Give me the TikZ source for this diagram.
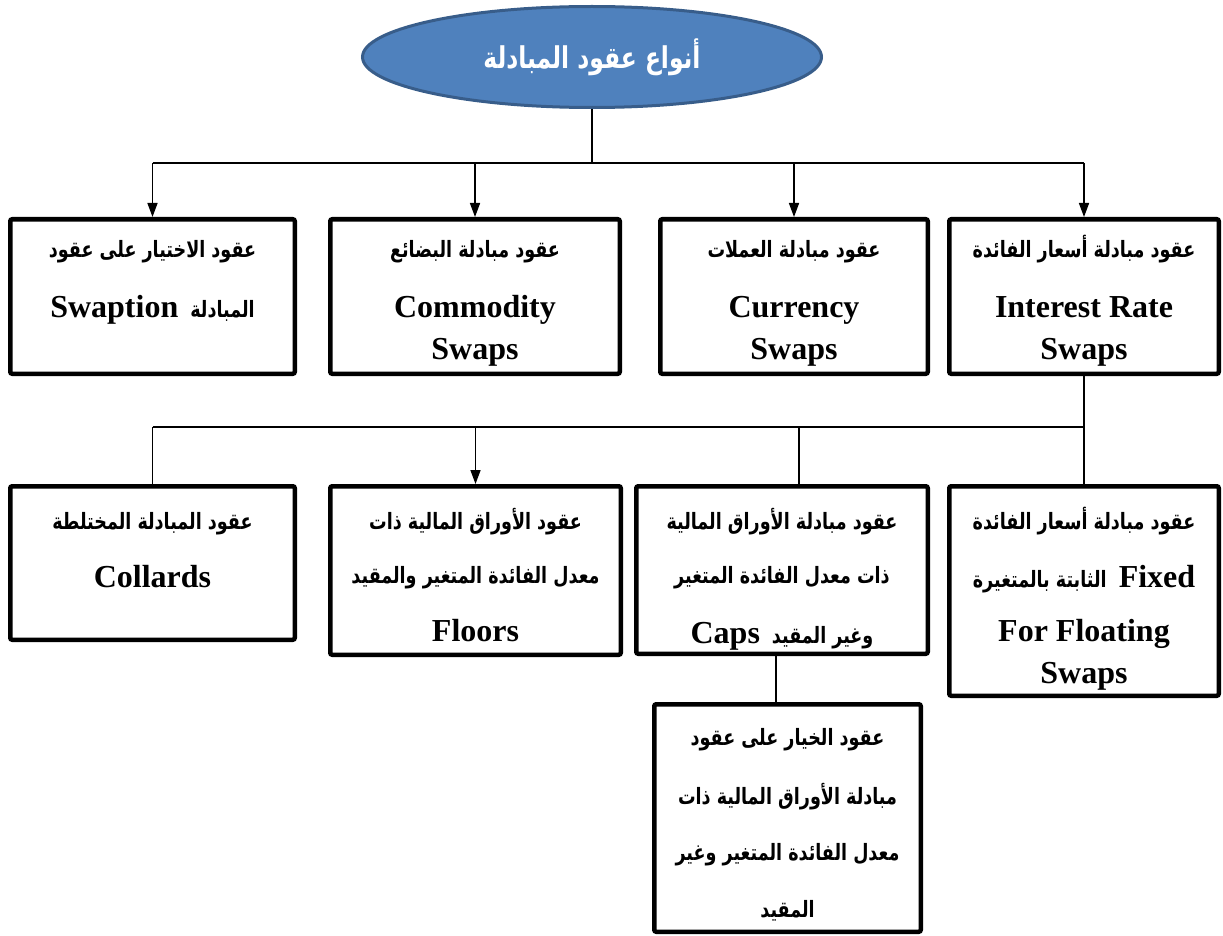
\documentclass[tikz,border=0pt]{standalone}
\usepackage{fontspec}
\setmainfont{Liberation Serif}
\newfontfamily\arabicfont[Script=Arabic,FakeStretch=0.78]{DejaVu Sans}
\TeXXeTstate=1
\usetikzlibrary{arrows.meta,positioning,shapes.geometric}
\definecolor{ovalfill}{RGB}{79,129,189}
\definecolor{ovaledge}{RGB}{56,93,138}
\newcommand{\artext}[1]{{\arabicfont\fontsize{22.5}{40}\selectfont\beginR#1\endR}}

\begin{document}
\begin{tikzpicture}[>={Triangle[length=14pt,width=10pt]},
  box/.style={draw,line width=4.5pt,rounded corners=2pt,inner sep=0pt,minimum height=154.5pt},
  txt/.style={align=center,inner sep=0pt,font=\bfseries\fontsize{32}{40}\selectfont},
  link/.style={line width=1.5pt},
  bus/.style={line width=2pt}]
  \useasboundingbox (0,0) rectangle (1223pt,-936pt);
  \node[ellipse,draw=ovaledge,fill=ovalfill,line width=3pt,minimum width=459pt,minimum height=101pt,
    text=white,font=\arabicfont\bfseries\fontsize{30}{36}\selectfont] (top) at (592pt,-57pt) {\beginR أنواع عقود المبادلة\endR};
  % first level
  \node[box,minimum width=269.5pt] (irs) at (1084pt,-296.5pt) {};
  \node[box,minimum width=267.5pt,left=17pt of irs] (cur) {};
  \node[box,minimum width=289.5pt,left=36pt of cur] (com) {};
  \node[box,minimum width=284.5pt,left=31pt of com] (swp) {};
  % second level
  \node[box,minimum width=269.5pt,minimum height=209.5pt,below=108pt of irs] (fix) {};
  \node[box,minimum width=291.5pt,minimum height=167.5pt,left=17pt of fix.north west,anchor=north east] (cap) {};
  \node[box,minimum width=290.5pt,minimum height=168.5pt,left=11pt of cap.north west,anchor=north east] (flo) {};
  \node[box,minimum width=284.5pt,minimum height=153.5pt,left=31pt of flo.north west,anchor=north east] (col) {};
  \node[box,minimum width=266.5pt,minimum height=227.5pt,below=46pt of cap,xshift=5.5pt] (opt) {};
  % texts
  \node[txt,below=12pt of swp.north] (swpT) {\strut\artext{عقود الاختيار على عقود}\\[20pt] Swaption\hspace{12pt}\artext{المبادلة}};
  \node[txt,below=12pt of com.north] (comT) {\strut\artext{عقود مبادلة البضائع}\\[20pt] Commodity\\[2pt] Swaps};
  \node[txt,below=12pt of cur.north] (curT) {\strut\artext{عقود مبادلة العملات}\\[20pt] Currency\\[2pt] Swaps};
  \node[txt,below=12pt of irs.north] (irsT) {\strut\artext{عقود مبادلة أسعار الفائدة}\\[20pt] Interest Rate\\[2pt] Swaps};
  \node[txt,below=17pt of col.north] (colT) {\strut\artext{عقود المبادلة المختلطة}\\[18pt] Collards};
  \node[txt,below=17pt of flo.north] (floT) {\strut\artext{عقود الأوراق المالية ذات}\\[14pt] \artext{معدل الفائدة المتغير والمقيد}\\[18pt] Floors};
  \node[txt,below=17pt of cap.north] (capT) {\strut\artext{عقود مبادلة الأوراق المالية}\\[14pt] \artext{ذات معدل الفائدة المتغير}\\[20pt] Caps\hspace{12pt}\artext{وغير المقيد}};
  \node[txt,below=17pt of fix.north] (fixT) {\strut\artext{عقود مبادلة أسعار الفائدة}\\[18pt] \artext{الثابتة بالمتغيرة}\hspace{12pt}Fixed\\[14pt] For Floating\\[2pt] Swaps};
  \node[txt,below=15pt of opt.north] (optT) {\strut\artext{عقود الخيار على عقود}\\[19pt] \artext{مبادلة الأوراق المالية ذات}\\[16pt] \artext{معدل الفائدة المتغير وغير}\\[17pt] \artext{المقيد}};
  % connectors
  \coordinate[below=54pt of top.south] (busA);
  \draw[link] (top.south) -- (busA);
  \draw[bus] (busA -| swp.north) -- (busA -| irs.north);
  \foreach \n in {swp,com,cur,irs} \draw[link,->] (busA -| \n.north) -- (\n.north);
  \coordinate[below=51pt of irs.south] (busB);
  \draw[bus] (busB -| col.north) -- (busB);
  \draw[link] (irs.south) -- (fix.north);
  \draw[link] (busB -| col.north) -- (col.north);
  \draw[link,->] (busB -| flo.north) -- (flo.north);
  \draw[link] ([xshift=17pt]cap.north) -- ([xshift=17pt]cap.north |- busB);
  \draw[link] ([xshift=-6pt]cap.south) -- ([xshift=-6pt]cap.south |- opt.north);
\end{tikzpicture}
\end{document}
